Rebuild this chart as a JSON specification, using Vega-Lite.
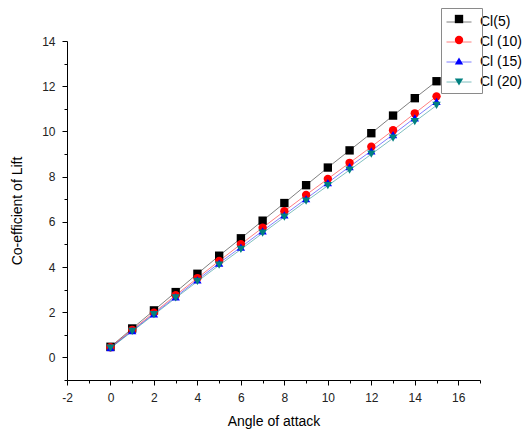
{
  "$schema": "https://vega.github.io/schema/vega-lite/v6.json",
  "width": 413,
  "height": 339,
  "autosize": {"type": "none"},
  "padding": {"left": 67, "top": 41, "right": 49, "bottom": 55},
  "config": {
    "font": "Liberation Sans",
    "view": {"stroke": null},
    "axis": {
      "grid": false,
      "domainColor": "#000000",
      "domainWidth": 1,
      "tickColor": "#000000",
      "tickWidth": 1,
      "labelColor": "#222222",
      "labelFontSize": 12,
      "titleFontSize": 14,
      "titleFontWeight": "normal",
      "titleColor": "#000000"
    },
    "legend": {"title": null, "orient": "none", "labelFontSize": 14, "labelColor": "#000000"}
  },
  "data": {
    "values": [
      {"angle": 0, "series": "Cl(5)", "cl": 0.47},
      {"angle": 1, "series": "Cl(5)", "cl": 1.28},
      {"angle": 2, "series": "Cl(5)", "cl": 2.08},
      {"angle": 3, "series": "Cl(5)", "cl": 2.89},
      {"angle": 4, "series": "Cl(5)", "cl": 3.70},
      {"angle": 5, "series": "Cl(5)", "cl": 4.50},
      {"angle": 6, "series": "Cl(5)", "cl": 5.27},
      {"angle": 7, "series": "Cl(5)", "cl": 6.05},
      {"angle": 8, "series": "Cl(5)", "cl": 6.83},
      {"angle": 9, "series": "Cl(5)", "cl": 7.62},
      {"angle": 10, "series": "Cl(5)", "cl": 8.40},
      {"angle": 11, "series": "Cl(5)", "cl": 9.16},
      {"angle": 12, "series": "Cl(5)", "cl": 9.92},
      {"angle": 13, "series": "Cl(5)", "cl": 10.70},
      {"angle": 14, "series": "Cl(5)", "cl": 11.47},
      {"angle": 15, "series": "Cl(5)", "cl": 12.22},
      {"angle": 0, "series": "Cl (10)", "cl": 0.45},
      {"angle": 1, "series": "Cl (10)", "cl": 1.22},
      {"angle": 2, "series": "Cl (10)", "cl": 1.98},
      {"angle": 3, "series": "Cl (10)", "cl": 2.75},
      {"angle": 4, "series": "Cl (10)", "cl": 3.51},
      {"angle": 5, "series": "Cl (10)", "cl": 4.27},
      {"angle": 6, "series": "Cl (10)", "cl": 5.01},
      {"angle": 7, "series": "Cl (10)", "cl": 5.74},
      {"angle": 8, "series": "Cl (10)", "cl": 6.47},
      {"angle": 9, "series": "Cl (10)", "cl": 7.19},
      {"angle": 10, "series": "Cl (10)", "cl": 7.90},
      {"angle": 11, "series": "Cl (10)", "cl": 8.61},
      {"angle": 12, "series": "Cl (10)", "cl": 9.32},
      {"angle": 13, "series": "Cl (10)", "cl": 10.05},
      {"angle": 14, "series": "Cl (10)", "cl": 10.80},
      {"angle": 15, "series": "Cl (10)", "cl": 11.55},
      {"angle": 0, "series": "Cl (15)", "cl": 0.43},
      {"angle": 1, "series": "Cl (15)", "cl": 1.18},
      {"angle": 2, "series": "Cl (15)", "cl": 1.93},
      {"angle": 3, "series": "Cl (15)", "cl": 2.68},
      {"angle": 4, "series": "Cl (15)", "cl": 3.43},
      {"angle": 5, "series": "Cl (15)", "cl": 4.17},
      {"angle": 6, "series": "Cl (15)", "cl": 4.88},
      {"angle": 7, "series": "Cl (15)", "cl": 5.60},
      {"angle": 8, "series": "Cl (15)", "cl": 6.31},
      {"angle": 9, "series": "Cl (15)", "cl": 7.02},
      {"angle": 10, "series": "Cl (15)", "cl": 7.73},
      {"angle": 11, "series": "Cl (15)", "cl": 8.44},
      {"angle": 12, "series": "Cl (15)", "cl": 9.14},
      {"angle": 13, "series": "Cl (15)", "cl": 9.86},
      {"angle": 14, "series": "Cl (15)", "cl": 10.60},
      {"angle": 15, "series": "Cl (15)", "cl": 11.33},
      {"angle": 0, "series": "Cl (20)", "cl": 0.41},
      {"angle": 1, "series": "Cl (20)", "cl": 1.15},
      {"angle": 2, "series": "Cl (20)", "cl": 1.89},
      {"angle": 3, "series": "Cl (20)", "cl": 2.63},
      {"angle": 4, "series": "Cl (20)", "cl": 3.36},
      {"angle": 5, "series": "Cl (20)", "cl": 4.08},
      {"angle": 6, "series": "Cl (20)", "cl": 4.78},
      {"angle": 7, "series": "Cl (20)", "cl": 5.50},
      {"angle": 8, "series": "Cl (20)", "cl": 6.21},
      {"angle": 9, "series": "Cl (20)", "cl": 6.91},
      {"angle": 10, "series": "Cl (20)", "cl": 7.60},
      {"angle": 11, "series": "Cl (20)", "cl": 8.29},
      {"angle": 12, "series": "Cl (20)", "cl": 8.99},
      {"angle": 13, "series": "Cl (20)", "cl": 9.70},
      {"angle": 14, "series": "Cl (20)", "cl": 10.43},
      {"angle": 15, "series": "Cl (20)", "cl": 11.15}
    ]
  },
  "resolve": {"axis": {"x": "independent", "y": "independent"}},
  "layer": [
    {
      "mark": {"type": "line", "strokeWidth": 1, "opacity": 0.5},
      "encoding": {
        "x": {
          "field": "angle", "type": "quantitative",
          "scale": {"domain": [-2, 17], "nice": false, "zero": false},
          "axis": {
            "orient": "bottom",
            "title": "Angle of attack",
            "values": [-2, 0, 2, 4, 6, 8, 10, 12, 14, 16],
            "labelExpr": "datum.value < 0 ? '-' + abs(datum.value) : datum.label",
            "tickSize": 5, "labelPadding": 7, "titlePadding": 11,
            "labelFlush": false
          }
        },
        "y": {
          "field": "cl", "type": "quantitative",
          "scale": {"domain": [-1, 14], "nice": false, "zero": false},
          "axis": {
            "orient": "left",
            "title": "Co-efficient of Lift",
            "values": [0, 2, 4, 6, 8, 10, 12, 14],
            "tickSize": 5, "labelPadding": 7, "titlePadding": 17,
            "labelFlush": false
          }
        },
        "stroke": {
          "field": "series", "type": "nominal",
          "scale": {
            "domain": ["Cl(5)", "Cl (10)", "Cl (15)", "Cl (20)"],
            "range": ["#000000", "#ff0000", "#0000ff", "#008080"]
          },
          "legend": {
            "legendX": 379,
            "legendY": -32,
            "symbolType": "stroke",
            "symbolSize": 625,
            "symbolStrokeWidth": 1,
            "symbolOpacity": 0.5,
            "labelOffset": 8,
            "rowPadding": 0,
            "padding": 0
          }
        }
      }
    },
    {
      "mark": {"type": "point", "filled": true, "opacity": 1, "size": 70},
      "encoding": {
        "x": {"field": "angle", "type": "quantitative", "axis": null},
        "y": {"field": "cl", "type": "quantitative", "axis": null},
        "color": {
          "field": "series", "type": "nominal",
          "scale": {"range": ["#ff0000", "#0000ff", "#008080", "#000000"]},
          "legend": {
            "values": ["Cl(5)", "Cl (10)", "Cl (15)", "Cl (20)"],
            "legendX": 374,
            "legendY": -33,
            "symbolSize": 70,
            "symbolOffset": 7,
            "labelExpr": "'\u00a0\u00a0\u00a0\u00a0\u00a0\u00a0\u00a0\u00a0\u00a0\u00a0\u00a0\u00a0\u00a0\u00a0'",
            "labelOffset": 12,
            "labelLimit": 80,
            "rowPadding": 7,
            "padding": 4,
            "strokeColor": "#8a8a8a"
          }
        },
        "shape": {
          "field": "series", "type": "nominal",
          "scale": {"range": ["circle", "triangle-up", "triangle-down", "square"]},
          "legend": {
            "values": ["Cl(5)", "Cl (10)", "Cl (15)", "Cl (20)"],
            "legendX": 374,
            "legendY": -33,
            "symbolSize": 70,
            "symbolOffset": 7,
            "labelExpr": "'\u00a0\u00a0\u00a0\u00a0\u00a0\u00a0\u00a0\u00a0\u00a0\u00a0\u00a0\u00a0\u00a0\u00a0'",
            "labelOffset": 12,
            "labelLimit": 80,
            "rowPadding": 7,
            "padding": 4,
            "strokeColor": "#8a8a8a"
          }
        }
      }
    },
    {
      "mark": {"type": "point", "opacity": 0},
      "encoding": {
        "x": {
          "field": "angle", "type": "quantitative",
          "axis": {"orient": "bottom", "title": null, "labels": false, "domain": false, "tickSize": 3,
                   "values": [-1, 1, 3, 5, 7, 9, 11, 13, 15, 17]}
        },
        "y": {
          "field": "cl", "type": "quantitative",
          "axis": {"orient": "left", "title": null, "labels": false, "domain": false, "tickSize": 3,
                   "values": [-1, 1, 3, 5, 7, 9, 11, 13]}
        }
      }
    }
  ]
}
